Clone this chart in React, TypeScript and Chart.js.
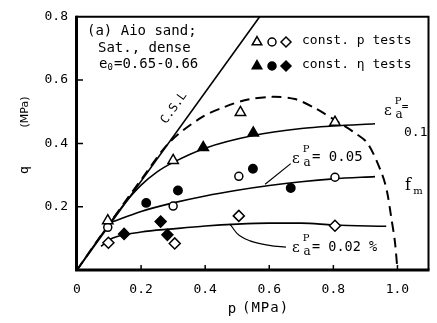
import React, { useEffect, useRef } from "react";
import { Chart, registerables } from "chart.js";
Chart.register(...registerables);

// Axis ticks
const xTicks = [0, 0.2, 0.4, 0.6, 0.8, 1.0];
const yTicks = [0.2, 0.4, 0.6, 0.8];

// Critical state line
const cslP = [0, 0.57];
const cslQ = [0, 0.8];

// failure surface f_m (dashed)
const fmP = [0, 0.1, 0.2, 0.29, 0.39, 0.46, 0.53, 0.61, 0.68, 0.745, 0.815, 0.86, 0.907, 0.953, 0.968, 0.98, 0.992, 1.0];
const fmQ = [0, 0.145, 0.285, 0.405, 0.483, 0.515, 0.538, 0.547, 0.54, 0.51, 0.467, 0.438, 0.4, 0.3, 0.245, 0.17, 0.09, 0];

// plastic strain contours
const e10P = [0, 0.1, 0.15, 0.2, 0.25, 0.3, 0.4, 0.55, 0.7, 0.8, 0.93];
const e10Q = [0, 0.145, 0.212, 0.268, 0.31, 0.34, 0.385, 0.425, 0.447, 0.455, 0.462];
const e05P = [0.105, 0.2, 0.3, 0.4, 0.5, 0.6, 0.7, 0.8, 0.93];
const e05Q = [0.15, 0.185, 0.212, 0.234, 0.252, 0.267, 0.279, 0.288, 0.295];
const e02P = [0.075, 0.11, 0.2, 0.3, 0.4, 0.5, 0.6, 0.7, 0.8, 0.965];
const e02Q = [0.075, 0.1, 0.12, 0.13, 0.139, 0.145, 0.148, 0.148, 0.142, 0.138];

// label leaders
const lead05P = [0.587, 0.667];
const lead05Q = [0.271, 0.336];
const lead02P = [0.477, 0.5, 0.54, 0.6, 0.652];
const lead02Q = [0.146, 0.115, 0.092, 0.078, 0.072];

// const. p tests (open symbols)
const openTriP = [0.096, 0.3, 0.51, 0.805];
const openTriQ = [0.156, 0.346, 0.498, 0.467];
const openCircP = [0.096, 0.3, 0.505, 0.805];
const openCircQ = [0.135, 0.202, 0.296, 0.293];
const openDiaP = [0.098, 0.305, 0.505, 0.805];
const openDiaQ = [0.086, 0.084, 0.171, 0.14];

// const. eta tests (filled symbols)
const fillTriP = [0.394, 0.55];
const fillTriQ = [0.387, 0.433];
const fillCircP = [0.216, 0.315, 0.549, 0.667];
const fillCircQ = [0.212, 0.251, 0.32, 0.259];
const fillDiaP = [0.147, 0.261, 0.282];
const fillDiaQ = [0.114, 0.153, 0.111];

const MONO = "'DejaVu Sans Mono', monospace";
const SERIF = "'DejaVu Serif', serif";
const SANS = "'DejaVu Sans', sans-serif";

const pts = (ps: number[], qs: number[]) => ps.map((p, i) => ({ x: p, y: qs[i] }));

function marker(ps: number[], qs: number[], style: string, filled: boolean, r: number) {
  return {
    data: pts(ps, qs),
    showLine: false,
    pointStyle: style,
    pointRadius: r,
    pointHoverRadius: r,
    pointBackgroundColor: filled ? "#000" : "#fff",
    pointBorderColor: "#000",
    pointBorderWidth: 1.5,
  };
}

function curve(ps: number[], qs: number[], extra: any = {}) {
  return {
    data: pts(ps, qs),
    showLine: true,
    borderColor: "#000",
    borderWidth: 1.6,
    pointRadius: 0,
    pointHoverRadius: 0,
    fill: false,
    cubicInterpolationMode: "monotone",
    ...extra,
  };
}

function drawShape(ctx: CanvasRenderingContext2D, kind: string, x: number, y: number, r: number, filled: boolean) {
  ctx.beginPath();
  if (kind === "tri") {
    const s = Math.sqrt(3) / 2;
    ctx.moveTo(x, y - r);
    ctx.lineTo(x + r * s, y + r / 2);
    ctx.lineTo(x - r * s, y + r / 2);
    ctx.closePath();
  } else if (kind === "circ") {
    ctx.arc(x, y, r, 0, Math.PI * 2);
  } else {
    ctx.moveTo(x, y - r);
    ctx.lineTo(x + r, y);
    ctx.lineTo(x, y + r);
    ctx.lineTo(x - r, y);
    ctx.closePath();
  }
  ctx.fillStyle = filled ? "#000" : "#fff";
  ctx.fill();
  ctx.lineWidth = 1.5;
  ctx.strokeStyle = "#000";
  ctx.stroke();
}

const decoPlugin = {
  id: "deco",
  afterDraw(chart: any) {
    const ctx: CanvasRenderingContext2D = chart.ctx;
    const ca = chart.chartArea;
    const xs = chart.scales.x;
    const ys = chart.scales.y;
    const px = (v: number) => xs.getPixelForValue(v);
    const py = (v: number) => ys.getPixelForValue(v);
    ctx.save();
    ctx.strokeStyle = "#000";
    ctx.lineCap = "butt";
    // frame
    ctx.lineWidth = 3;
    ctx.beginPath();
    ctx.moveTo(ca.left - 0.5, ca.top - 1);
    ctx.lineTo(ca.left - 0.5, ca.bottom);
    ctx.lineTo(ca.right, ca.bottom);
    ctx.stroke();
    ctx.lineWidth = 2;
    ctx.beginPath();
    ctx.moveTo(ca.left - 1, ca.top);
    ctx.lineTo(ca.right - 1, ca.top);
    ctx.lineTo(ca.right - 1, ca.bottom);
    ctx.stroke();
    // inner ticks
    ctx.lineWidth = 1.5;
    ctx.beginPath();
    xTicks.forEach((v) => {
      if (v === 0) return;
      ctx.moveTo(px(v), ca.bottom);
      ctx.lineTo(px(v), ca.bottom - 5);
    });
    yTicks.forEach((v) => {
      if (v >= 0.8) return;
      ctx.moveTo(ca.left, py(v));
      ctx.lineTo(ca.left + 6, py(v));
    });
    ctx.stroke();

    ctx.textBaseline = "middle";
    const text = (s: string, x: number, y: number, font: string, align: CanvasTextAlign = "left") => {
      ctx.fillStyle = "#000";
      ctx.font = font;
      ctx.textAlign = align;
      ctx.fillText(s, x, y);
    };

    // title block
    text("(a) Aio sand;", 87, 31, `14px ${MONO}`);
    text("Sat., dense", 98, 48, `14px ${MONO}`);
    text("e", 99, 64, `14px ${MONO}`);
    text("0", 107.5, 68, `9px ${MONO}`);
    text("=0.65-0.66", 114, 64, `14px ${MONO}`);

    // legend
    drawShape(ctx, "tri", 257, 42, 5.5, false);
    drawShape(ctx, "circ", 272, 42, 4, false);
    drawShape(ctx, "dia", 286, 42, 5, false);
    text("const. p tests", 302, 41, `13px ${MONO}`);
    drawShape(ctx, "tri", 257, 66, 5.5, true);
    drawShape(ctx, "circ", 272, 66, 4, true);
    drawShape(ctx, "dia", 286, 66, 5, true);
    text("const. \u03b7 tests", 302, 65, `13px ${MONO}`);

    // C.S.L label rotated along the line
    const ang = Math.atan2(py(cslQ[1]) - py(cslQ[0]), px(cslP[1]) - px(cslP[0]));
    ctx.save();
    ctx.translate(174, 108);
    ctx.rotate(ang);
    text("C.S.L", 0, 0, `12px ${MONO}`, "center");
    ctx.restore();

    // epsilon labels
    const eps = (x: number, y: number) => {
      text("\u03b5", x, y, `15px ${SERIF}`, "center");
      text("P", x + 10, y - 10, `10px ${SERIF}`, "center");
      text("a", x + 11, y + 4, `12px ${SERIF}`, "center");
    };
    eps(388, 111);
    text("=", 405, 107, `11px ${MONO}`, "center");
    text("0.1", 404, 133, `13px ${MONO}`);
    eps(296, 159);
    text("= 0.05", 312, 157, `14px ${MONO}`);
    eps(296, 248);
    text("= 0.02 %", 312, 247, `13.5px ${MONO}`);

    // f_m
    text("f", 408, 186, `16px ${SERIF}`, "center");
    text("m", 418, 191, `10px ${SERIF}`, "center");

    // axis titles
    text("p", 232, 309, `14px ${MONO}`, "center");
    ctx.save();
    (ctx as any).letterSpacing = "1px";
    text("(MPa)", 242, 308, `14px ${MONO}`);
    ctx.restore();
    ctx.save();
    ctx.translate(25, 170);
    ctx.rotate(-Math.PI / 2);
    text("q", 0, 0, `13px ${MONO}`, "center");
    ctx.restore();
    ctx.save();
    ctx.translate(25, 112);
    ctx.rotate(-Math.PI / 2);
    text("(MPa)", 0, 0, `11px ${SANS}`, "center");
    ctx.restore();

    ctx.restore();
  },
};

export default function App() {
  const ref = useRef<HTMLCanvasElement>(null);
  useEffect(() => {
    const canvas = ref.current!;
    const chart = new Chart(canvas, {
      type: "scatter",
      data: {
        datasets: [
          marker(openTriP, openTriQ, "triangle", false, 6),
          marker(openCircP, openCircQ, "circle", false, 4),
          marker(openDiaP, openDiaQ, "rectRot", false, 5.5),
          marker(fillTriP, fillTriQ, "triangle", true, 6),
          marker(fillCircP, fillCircQ, "circle", true, 4.2),
          marker(fillDiaP, fillDiaQ, "rectRot", true, 5.5),
          curve(cslP, cslQ, { cubicInterpolationMode: "default", tension: 0 }),
          curve(fmP, fmQ, { borderDash: [10, 6], borderWidth: 2, cubicInterpolationMode: "default", tension: 0.3 }),
          curve(e10P, e10Q),
          curve(e05P, e05Q),
          curve(e02P, e02Q),
          curve(lead05P, lead05Q, { borderWidth: 1.2, cubicInterpolationMode: "default", tension: 0 }),
          curve(lead02P, lead02Q, { borderWidth: 1.2 }),
        ] as any,
      },
      options: {
        animation: false,
        responsive: false,
        maintainAspectRatio: false,
        devicePixelRatio: 1,
        layout: { padding: { top: 13, right: 1, left: 0, bottom: 0 } },
        plugins: { legend: { display: false }, tooltip: { enabled: false } },
        events: [],
        scales: {
          x: {
            type: "linear",
            min: 0,
            max: 1.1,
            grid: { display: false, drawTicks: false },
            border: { display: false },
            afterBuildTicks: (s: any) => {
              s.ticks = xTicks.map((v) => ({ value: v }));
            },
            afterFit: (s: any) => {
              s.height = 53;
            },
            ticks: {
              color: "#000",
              padding: 12,
              maxRotation: 0,
              font: { family: "'DejaVu Sans Mono'", size: 13 },
              callback: (v: any) => (Number(v) === 0 ? "0" : Number(v).toFixed(1)),
            },
          },
          y: {
            type: "linear",
            min: 0,
            max: 0.8,
            grid: { display: false, drawTicks: false },
            border: { display: false },
            afterBuildTicks: (s: any) => {
              s.ticks = yTicks.map((v) => ({ value: v }));
            },
            afterFit: (s: any) => {
              s.width = 77;
            },
            ticks: {
              color: "#000",
              padding: 9,
              font: { family: "'DejaVu Sans Mono'", size: 13 },
              callback: (v: any) => Number(v).toFixed(1),
            },
          },
        },
      } as any,
      plugins: [decoPlugin],
    });
    return () => chart.destroy();
  }, []);
  return (
    <div style={{ position: "fixed", left: 0, top: 0, width: 437, height: 323, background: "#fff" }}>
      <canvas ref={ref} width={437} height={323} style={{ width: 437, height: 323, display: "block" }} />
    </div>
  );
}
